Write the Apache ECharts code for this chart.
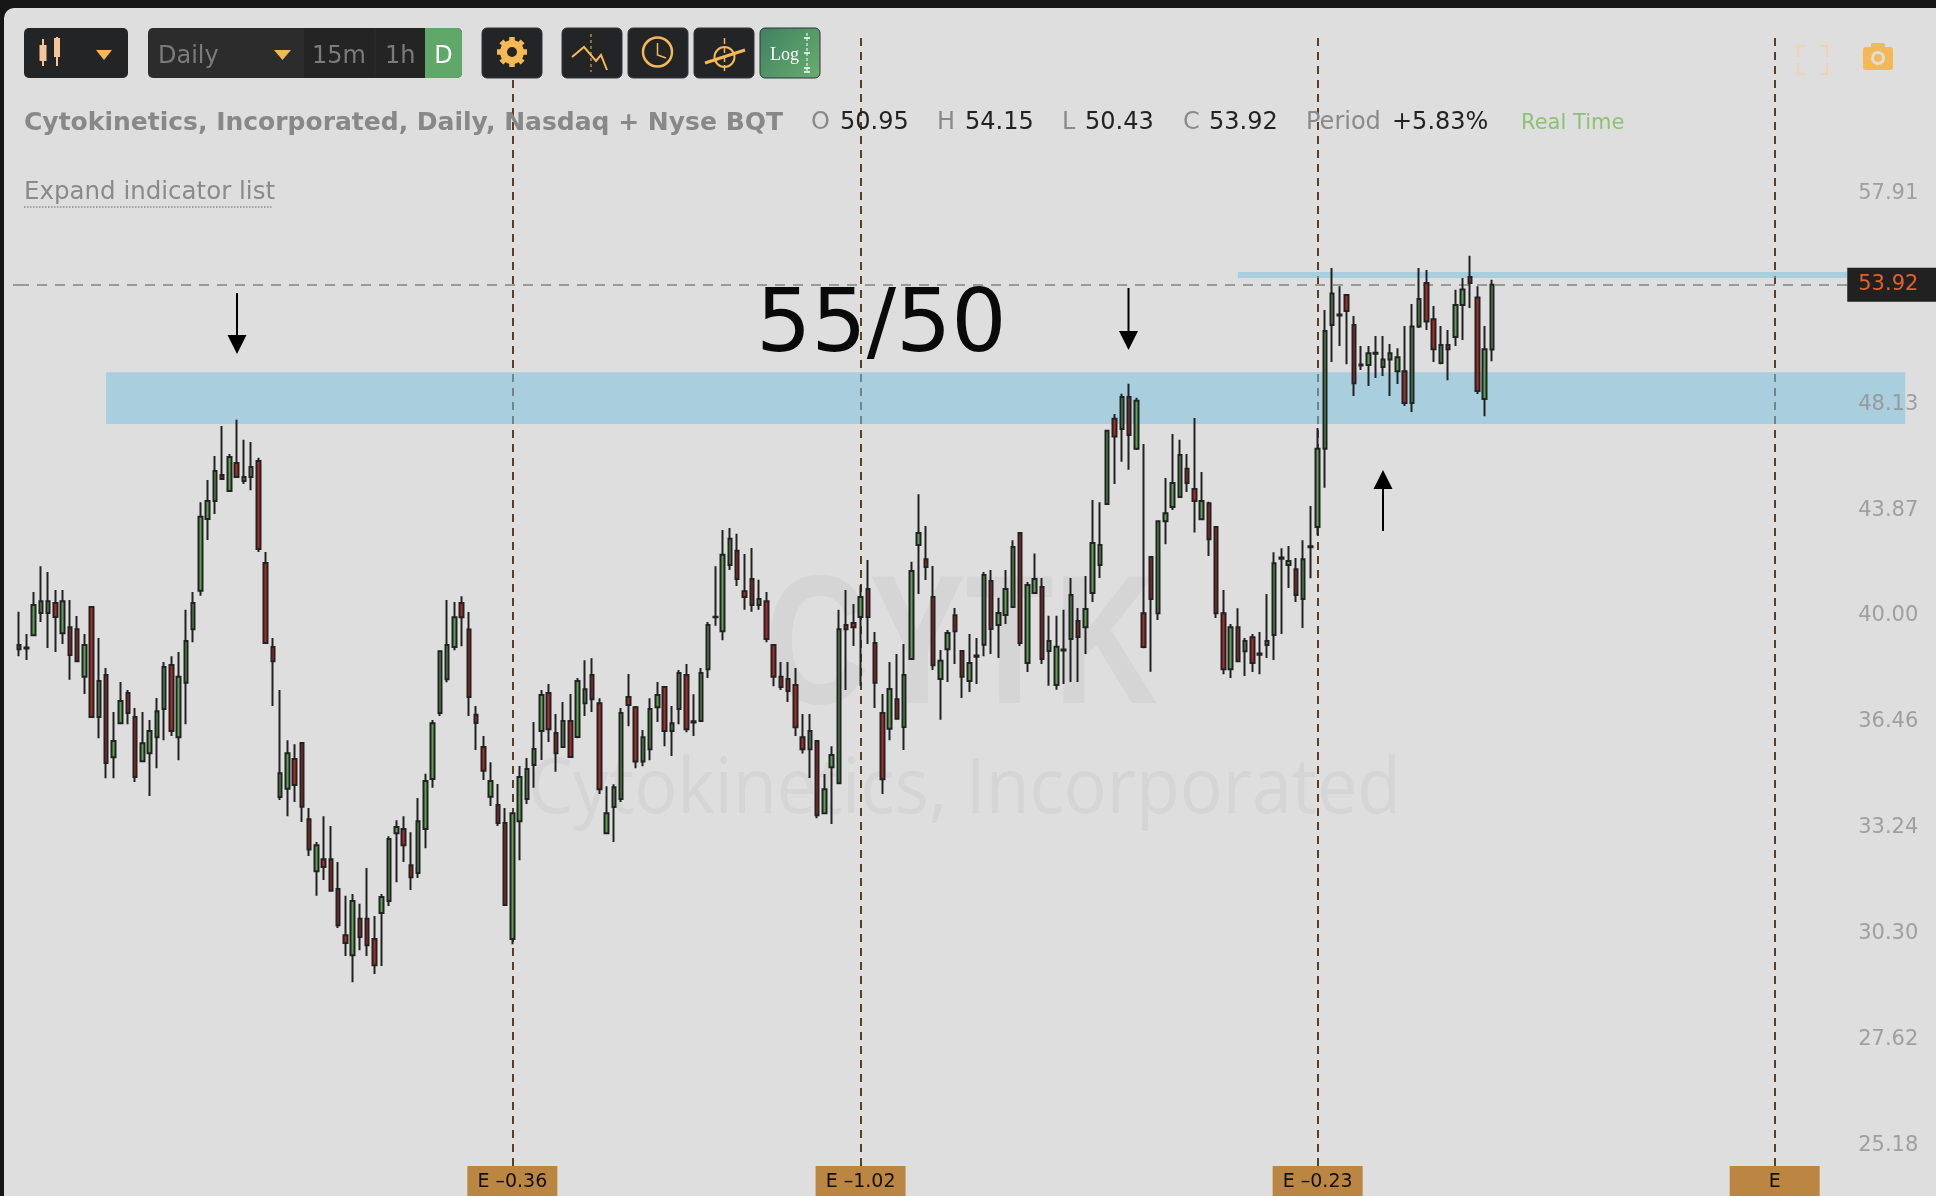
<!DOCTYPE html>
<html>
<head>
<meta charset="utf-8">
<style>html,body{margin:0;padding:0;background:#161616;overflow:hidden}#c{width:1936px;height:1196px}</style>
<script src="https://cdn.jsdelivr.net/npm/echarts@6/dist/echarts.min.js"></script>
</head>
<body>
<div id="c"></div>
<script>
const opens = [
39.34,39.26,39.68,40.46,40.46,40.81,39.75,39.96,39.89,38.26,
40.67,36.94,38.32,35.66,36.74,37.72,36.94,35.54,35.79,36.29,
37.20,38.66,36.29,38.06,39.89,41.25,43.93,44.62,45.65,45.02,
46.13,45.41,45.57,46.21,42.27,39.27,34.44,34.69,35.61,36.11,
33.78,32.28,32.62,32.62,31.78,30.52,29.99,30.96,30.96,30.42,
31.12,31.45,33.37,33.49,32.45,32.23,33.49,34.99,37.07,38.18,
39.27,40.81,39.88,37.01,35.98,34.45,34.20,33.67,30.42,33.72,
34.38,35.42,36.49,37.72,36.43,35.98,36.81,36.30,37.39,38.32,
37.39,33.37,34.14,34.38,37.59,37.26,35.53,35.91,37.26,37.92,
36.49,37.20,38.32,36.80,36.81,38.52,40.33,39.82,42.19,42.72,
41.24,41.68,40.74,40.88,39.34,38.26,38.19,37.99,36.29,35.91,
36.17,33.96,35.35,34.86,40.04,40.11,40.32,41.32,39.41,37.07,
36.56,37.52,36.62,38.86,42.94,42.41,41.03,38.19,39.20,40.38,
39.14,38.12,38.98,39.35,41.61,40.04,40.39,40.67,43.39,38.73,
41.17,41.39,39.14,37.99,39.19,39.55,40.18,39.96,41.17,42.19,
44.51,47.95,47.53,48.88,46.71,40.45,42.49,40.45,43.84,44.39,
44.78,45.90,45.10,43.92,44.54,43.62,40.45,38.52,39.96,39.13,
39.61,39.05,39.34,39.69,42.47,42.19,42.04,40.96,42.89,43.62,
46.71,52.05,52.53,53.44,52.05,50.28,50.26,50.80,50.17,50.51,
49.99,49.99,48.62,51.98,54.00,52.31,50.35,51.15,51.51,52.97,
54.28,53.32,48.79,50.95];
const closes = [
39.20,39.22,40.74,40.88,40.88,40.32,40.88,39.00,38.79,39.34,
36.94,38.12,35.48,36.17,37.46,37.07,35.05,36.10,36.49,37.13,
38.59,36.49,38.26,39.48,40.81,44.01,44.62,45.81,45.49,46.38,
45.57,45.57,45.97,42.79,39.41,38.79,35.17,35.79,34.81,34.15,
32.90,33.02,32.40,31.73,30.79,30.31,31.45,30.47,30.25,29.73,
31.56,33.20,33.55,33.02,32.11,33.72,34.93,36.74,39.13,39.34,
40.31,40.31,37.59,36.75,35.24,34.93,33.67,31.34,33.96,35.05,
35.30,35.92,37.66,36.55,35.79,36.81,35.67,38.12,37.85,37.52,
34.68,33.96,34.74,37.07,37.33,35.53,36.29,37.20,37.66,36.49,
36.74,38.39,36.55,36.76,38.39,40.04,40.31,42.57,43.17,41.68,
41.03,40.74,40.96,39.55,38.26,37.92,37.79,36.61,35.91,36.49,
33.90,34.68,35.73,39.89,39.89,39.96,41.03,40.32,38.06,34.98,
37.86,36.88,38.32,41.97,43.39,42.12,38.65,38.80,39.76,39.82,
38.26,38.73,38.94,41.83,39.90,40.46,41.32,42.86,39.41,41.46,
41.68,38.86,39.48,39.28,39.15,41.10,39.62,40.60,43.01,42.94,
47.45,47.21,48.88,47.28,48.71,39.27,40.96,43.84,44.15,45.33,
46.46,45.33,44.62,44.62,43.16,40.45,38.52,39.96,38.79,39.48,
38.73,39.01,39.48,42.26,42.43,42.34,41.10,42.41,42.85,46.71,
51.78,53.51,52.49,52.69,49.47,50.24,50.78,50.76,50.51,50.78,
50.60,48.62,51.98,53.25,52.21,50.96,51.15,50.96,52.97,53.70,
54.00,49.13,50.96,53.92];
const lows = [
38.96,38.83,39.65,40.14,39.24,39.10,39.38,38.16,38.76,37.69,
36.91,36.26,35.01,35.01,36.71,36.71,34.90,35.51,34.47,35.32,
36.20,36.33,35.57,36.71,39.44,41.07,43.13,44.12,45.45,44.98,
45.53,45.29,45.05,42.68,39.38,37.30,34.35,33.87,34.29,33.70,
32.71,31.59,32.03,31.70,30.71,29.97,29.29,30.12,29.97,29.50,
29.71,31.31,31.97,32.54,31.75,32.09,32.93,34.72,36.97,38.08,
39.16,39.30,36.97,35.89,34.96,34.17,33.58,31.31,30.28,32.59,
34.23,34.72,35.58,36.14,35.21,35.95,35.64,36.26,36.97,37.10,
34.53,33.34,33.11,34.29,36.64,35.32,35.38,35.57,36.78,36.01,
35.70,36.71,36.45,36.33,36.78,38.22,40.01,39.51,42.01,41.43,
40.57,40.50,40.57,39.44,37.95,37.82,37.43,36.33,35.78,35.02,
33.81,33.94,33.64,34.83,37.82,39.31,37.96,39.38,37.23,34.53,
36.20,36.85,35.89,38.83,41.14,41.64,38.49,36.85,38.09,38.69,
37.56,37.76,38.02,38.96,39.03,38.90,40.07,40.64,39.31,38.42,
41.14,38.69,37.96,37.83,38.02,38.09,38.09,39.03,40.85,41.72,
44.47,45.29,46.18,45.86,46.66,39.23,38.43,40.21,42.97,44.27,
44.74,44.98,43.41,43.88,42.53,40.28,38.35,38.22,38.76,38.29,
38.42,38.35,38.90,38.83,39.72,41.35,40.85,39.93,41.71,43.31,
45.14,50.39,51.10,50.30,48.92,50.04,49.35,49.69,49.78,48.92,
49.43,48.49,48.24,51.92,51.83,50.39,50.30,49.60,51.10,51.37,
52.83,49.00,48.06,50.43];
const highs = [
40.50,39.72,41.21,42.15,41.94,41.28,41.28,40.92,40.35,39.72,
40.71,39.58,38.56,37.10,38.09,37.82,37.23,37.10,36.84,37.56,
38.76,38.96,39.10,40.57,41.21,44.58,45.45,46.42,47.65,46.50,
47.91,47.08,46.99,46.34,42.68,39.58,37.82,36.20,36.07,36.14,
34.11,33.11,33.87,33.58,32.54,31.59,31.64,31.37,32.37,31.04,
31.64,33.28,33.75,33.87,33.40,34.41,35.15,36.84,39.16,40.92,
40.85,41.06,40.49,37.30,36.33,35.51,34.84,34.11,33.99,35.39,
35.64,36.78,37.82,38.02,37.04,37.43,37.69,38.22,38.82,38.89,
37.55,34.77,34.83,37.23,38.36,37.30,36.52,37.55,38.09,37.95,
37.30,38.49,38.69,37.68,38.56,40.14,42.15,43.51,43.58,43.36,
42.60,42.83,41.65,41.21,39.37,38.76,38.76,38.56,37.04,37.04,
36.20,35.14,36.01,40.57,41.28,40.78,41.45,42.38,39.79,37.69,
38.76,39.03,39.38,42.31,44.89,43.66,42.16,39.17,39.86,40.64,
39.17,39.72,39.58,41.94,42.01,41.00,42.01,43.12,43.43,41.57,
42.62,41.72,40.36,40.36,40.57,41.72,40.64,41.79,44.66,44.58,
47.49,48.15,49.01,49.44,48.84,46.91,42.53,43.88,45.53,47.32,
47.08,46.50,47.99,45.77,44.59,43.65,41.28,40.07,40.63,39.58,
39.72,39.79,41.14,42.67,42.82,42.90,42.45,43.12,44.43,47.57,
52.74,54.72,53.85,53.47,52.46,51.10,51.10,51.55,51.55,51.19,
51.01,52.01,53.02,54.72,54.62,52.92,52.01,51.83,53.68,54.24,
55.30,53.85,52.01,54.15];
const tickLabels = [57.91, 48.13, 43.87, 40.00, 36.46, 33.24, 30.30, 27.62, 25.18];
const earningsAt = [68, 116, 179, 242];
const earningsLabels = ['E –0.36', 'E –1.02', 'E –0.23', 'E'];
const lastPrice = 53.92;
const zoneMain = [47.73, 49.95];
const zoneTop = [54.24, 54.52];
const sessionCount = 264;
const sessions = [];
for (let i = 0; i < sessionCount; i++) sessions.push(String(i));

const candleData = opens.map((o, i) => [o, closes[i], lows[i], highs[i]]);
const DV = '"DejaVu Sans"';
const ORANGE = '#f4b856';
const g = [];
function rect(x, y, w, h, fill, r, z, stroke) {
  g.push({type:'rect', silent:true, z:z===undefined?100:z, shape:{x,y,width:w,height:h,r:r||0}, style:{fill, stroke:stroke||null, lineWidth:stroke?1:0}});
}
function text(t, x, y, font, fill, align, z, extra) {
  g.push(Object.assign({type:'text', silent:true, z:z===undefined?100:z, x, y:y+3, style:{text:t, font, fill, textAlign:align||'left', textVerticalAlign:'middle', textBaseline:'middle'}}, extra||{}));
}
function line(pts, stroke, w, z, dash) {
  g.push({type:'polyline', silent:true, z:z===undefined?101:z, shape:{points:pts}, style:{stroke, lineWidth:w, fill:null, lineDash:dash||null}});
}
function poly(pts, fill, z) {
  g.push({type:'polygon', silent:true, z:z===undefined?101:z, shape:{points:pts}, style:{fill}});
}
function circle(cx, cy, r, stroke, w, fill) {
  g.push({type:'circle', silent:true, z:101, shape:{cx,cy,r}, style:{stroke, lineWidth:w, fill:fill||null}});
}
function fitScale(t, font, w) {
  const ctx = document.createElement('canvas').getContext('2d');
  ctx.font = font;
  return w / ctx.measureText(t).width;
}
// page background + watermark
rect(4, 8, 1932, 1188, '#dedede', [10,0,0,0], -10);
const wmFont = 'bold 184px "Liberation Sans"';
text('CYTK', 765, 649, wmFont, '#d5d5d5', 'left', -9, {scaleX: fitScale('CYTK', wmFont, 393)});
text('Cytokinetics, Incorporated', 528, 788, '76px "Open Sans"', '#d5d5d5', 'left', -9, {scaleX: fitScale('Cytokinetics, Incorporated', '76px "Open Sans"', 873)});
// toolbar
const BTN = '#232426', BORDER = '#31343a';
rect(24, 28, 104, 50, BTN, 5);
line([[43,39],[43,66]], '#f6c49a', 2); rect(39.5,45,7,16,'#f6c49a',0,102);
line([[57,37],[57,66]], '#f6c49a', 2); rect(54,38,6,19,'#f6c49a',0,102);
poly([[96,50],[112,50],[104,60]], ORANGE);
rect(148, 28, 314, 50, '#2c2c2c', 5);
rect(304, 28, 121, 50, '#242424', 0, 101);
line([[375,28],[375,78]], '#2c2c2c', 1, 102);
rect(425, 28, 37, 50, '#5fa86a', [0,5,5,0], 101);
text('Daily', 158, 54, '24px '+DV, '#7b7b7b');
poly([[274,50],[291,50],[282.5,60]], ORANGE);
text('15m', 312, 54, '24px '+DV, '#7b7b7b', 'left', 102);
text('1h', 385, 54, '24px '+DV, '#7b7b7b', 'left', 102);
text('D', 443.5, 54, '24px '+DV, '#ffffff', 'center', 102);
[[482,60],[562,60],[628,60],[694,60]].forEach(b => rect(b[0], 28, b[1], 50, BTN, 5, 100, BORDER));
// gear
circle(512, 52, 8.5, ORANGE, 7);
for (let k = 0; k < 8; k++) {
  const a = k * Math.PI / 4;
  line([[512+9*Math.cos(a),52+9*Math.sin(a)],[512+15*Math.cos(a),52+15*Math.sin(a)]], ORANGE, 5.5);
}
// zigzag
line([[591,34],[591,72]], ORANGE, 1, 101, [3,3]);
line([[572,57],[584,47],[596,61],[601,55],[607,70]], ORANGE, 2);
// clock
circle(657.5, 52, 14.5, ORANGE, 2.5);
line([[657.5,43],[657.5,55],[666,58]], ORANGE, 1.5);
// crosshair
line([[724.5,38],[724.5,72]], ORANGE, 1.5, 101, [6,3]);
circle(724.5, 57, 10, ORANGE, 2);
line([[705,63],[745,50]], ORANGE, 3);
// log
g.push({type:'rect', silent:true, z:100, shape:{x:760,y:28,width:60,height:50,r:5}, style:{stroke:BORDER, lineWidth:1, fill:{type:'linear',x:0,y:0,x2:1,y2:1,colorStops:[{offset:0,color:'#3f8060'},{offset:1,color:'#68ae70'}]}}});
text('Log', 770, 52, '18px "Liberation Serif"', '#ffffff', 'left', 102);
line([[807,33],[807,73]], '#ffffff', 1, 102, [3,2]);
[38,53,68,72].forEach(y => line([[804,y],[810,y]], '#ffffff', 1.5, 102));
// fullscreen + camera
const fs = [[1798,46,1],[1827,46,-1],[1798,74,1],[1827,74,-1]];
fs.forEach(c => {
  line([[c[0]+c[2]*8,c[1]],[c[0],c[1]],[c[0],c[1]===46?c[1]+11:c[1]-11]], '#f8cf8e', 1.2);
});
rect(1863, 47, 30, 23, ORANGE, 3, 100);
rect(1871, 43, 14, 6, ORANGE, 2, 100);
circle(1878, 58, 5.5, '#dedede', 3);
// header line
const H_Y = 120;
const titleText = 'Cytokinetics, Incorporated, Daily, Nasdaq + Nyse BQT';
const titleFont = 'bold 25px "DejaVu Sans"';
text(titleText, 24, H_Y, titleFont, '#888888', 'left', 3, {scaleX: fitScale(titleText, titleFont, 759)});
const grey = '#8a8a8a', dark = '#222222';
[['O',811,grey],['50.95',840,dark],['H',937,grey],['54.15',965,dark],['L',1062,grey],['50.43',1085,dark],['C',1183,grey],['53.92',1209,dark],['Period',1306,grey],['+5.83%',1392,dark]].forEach(t => text(t[0], t[1], H_Y, '24px '+DV, t[2], 'left', 3));
text('Real Time', 1521, H_Y+1, '21px '+DV, '#8cc274', 'left', 3);
text('Expand indicator list', 24, 190, '24.5px '+DV, '#8a8a8a', 'left', 3);
line([[24,207],[273,207]], '#8a8a8a', 1.5, 3, [1.5,1.5]);
text('55/50', 756, 325.5, '87px '+DV, '#0a0a0a', 'left', 30);
// arrows
function arrow(x, y0, y1) {
  const d = y1 > y0 ? 1 : -1;
  line([[x,y0],[x,y1-d*17]], '#000', 2, 30);
  poly([[x-9.5,y1-d*19],[x+9.5,y1-d*19],[x,y1]], '#000', 30);
}
arrow(237, 293, 354);
arrow(1128.5, 288, 350);
arrow(1383, 531, 470);
line([[13,285],[19,285]], '#999999', 2, 1);

const chart = echarts.init(document.getElementById('c'));
chart.setOption({
  animation: false,
  backgroundColor: 'transparent',
  graphic: {elements: g},
  grid: {left: 15.37, top: 38, width: 7.255 * sessionCount, height: 1128, containLabel: false},
  xAxis: {type: 'category', data: sessions, show: false, boundaryGap: true},
  yAxis: {type: 'log', min: 24.94, max: 66.91, position: 'right', axisLine: {show:false}, axisTick: {show:false}, axisLabel: {show:false}, splitLine: {show:false}},
  series: [
    {type: 'line', name: 'Earnings', data: [], z: 0, silent: true,
      markLine: {silent: true, z: 0, symbol: 'none', animation: false,
        lineStyle: {type: [8,6], color: '#5a3f22', width: 2},
        label: {show: true, position: 'start', distance: 0, formatter: p => p.name,
          backgroundColor: '#bb8642', color: '#111', fontFamily: 'DejaVu Sans', fontSize: 19,
          width: 90, height: 27, lineHeight: 27, padding: [3,0,0,0], align: 'center'},
        data: earningsAt.map((x, i) => ({xAxis: x, name: earningsLabels[i]}))}},
    {type: 'line', name: 'Zones', data: [], z: 1, silent: true,
      markArea: {silent: true, z: 1, itemStyle: {color: 'rgba(126,193,220,0.55)'},
        data: [
          [{xAxis: 12, yAxis: zoneMain[1]}, {xAxis: 260, yAxis: zoneMain[0]}],
          [{xAxis: 168, yAxis: zoneTop[1]}, {xAxis: 252, yAxis: zoneTop[0]}]
        ]}},
    {type: 'line', name: 'Last', data: [], z: 1, silent: true,
      markLine: {silent: true, z: 1, symbol: 'none', animation: false,
        lineStyle: {type: [10,8], color: '#999999', width: 2},
        label: {show: true, position: 'end', distance: 0, formatter: () => lastPrice.toFixed(2),
          backgroundColor: '#212121', color: '#e4622a', fontFamily: 'DejaVu Sans', fontSize: 21,
          width: 80, height: 34, lineHeight: 34, padding: [0,0,0,11], align: 'left'},
        data: [[{xAxis: 0, yAxis: lastPrice}, {xAxis: 252, yAxis: lastPrice}]]}},
    {type: 'candlestick', name: 'CYTK', data: candleData, z: 2, barWidth: 4, silent: true,
      itemStyle: {color: '#5aa552', color0: '#b02a26', borderColor: '#222222', borderColor0: '#222222', borderColorDoji: '#222222', borderWidth: 2}},
    {type: 'scatter', name: 'Ticks', z: 3, silent: true, symbolSize: 1, itemStyle: {color: 'transparent'},
      data: tickLabels.map(v => [262, v]),
      label: {show: true, position: [0,0], align: 'right', verticalAlign: 'middle', offset: [-1,-9.5],
        formatter: p => p.value[1].toFixed(2), color: '#8e8e8e', fontFamily: 'DejaVu Sans', fontSize: 21}}
  ]
});
</script>
</body>
</html>
